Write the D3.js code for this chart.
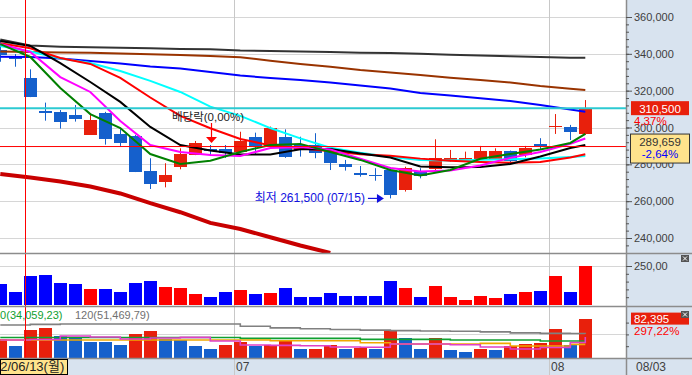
<!DOCTYPE html>
<html>
<head>
<meta charset="utf-8">
<script src="https://cdnjs.cloudflare.com/ajax/libs/d3/7.8.5/d3.min.js"></script>
<style>
  body { margin: 0; background: #fff; }
  svg { display: block; }
  text { font-family: "Liberation Sans", "Noto Sans CJK KR", sans-serif; }
</style>
</head>
<body>
<script>

/* DATA */
var dates = ["06/09","06/10","06/13","06/14","06/15","06/16","06/17","06/20","06/21","06/22",
             "06/23","06/24","06/27","06/28","06/29","06/30","07/01","07/04","07/05","07/06",
             "07/07","07/08","07/11","07/12","07/13","07/14","07/15","07/18","07/19","07/20",
             "07/21","07/22","07/25","07/26","07/27","07/28","07/29","08/01","08/02","08/03"];

var open  = [342000,338500,326700,308800,308400,306800,296100,308000,296500,295400,
             276400,270600,278700,285300,288300,288200,286900,295000,289600,295000,
             290500,290500,288200,280200,275100,274400,276900,266100,276600,277300,
             282000,282000,282900,282900,287300,285100,291000,300800,300300,296500];
var high  = [347500,339900,331600,313500,309500,312200,307700,308500,299600,296000,
             283300,280600,288700,292700,290500,290500,297700,297200,300500,299000,
             295000,296900,288500,282400,279100,277900,278400,278700,277900,293600,
             287800,286900,290000,288700,287500,290000,294200,307300,301400,314900];
var low   = [335700,333000,316500,303700,299400,303200,296000,290700,290000,275800,
             266600,267500,277300,285000,284500,283500,286500,285100,289000,283500,
             284200,283300,276900,276600,273300,271100,261500,265200,272400,276000,
             281400,281400,282400,282500,280600,283800,287800,296500,293200,296000];
var close = [339500,337000,316700,308400,303200,304500,304100,294000,291800,276000,
             269200,274200,285600,291400,287300,286300,292800,289600,299900,284200,
             287800,286000,280600,278700,274800,274000,263400,277900,273800,283300,
             283300,283300,287300,287300,282000,288700,290700,301000,297500,310500];

// trading value (억원) and volume (shares)
var tradeValue = [135,83,183,190,140,133,100,100,83,140,152,115,108,71,52,83,96,71,77,108,
                  52,52,77,58,58,58,152,108,52,121,52,31,58,46,71,83,90,183,83,252];
var volume = [39500,25400,59200,63400,46500,43800,33800,33700,27500,50700,
              57100,40800,38100,25400,19000,27500,34500,25400,27500,36600,
              19000,19200,27500,19000,20500,20000,57700,41600,19000,41600,
              16900,12700,19000,16900,26000,29600,31100,61300,28000,82395];

// moving averages, read at these candle indexes
var maIndex = [0,2,4,6,8,10,12,14,16,18,20,22,24,26,28,30,32,34,36,38,39];
var maGreen   = [345300,338300,321500,307300,299700,285600,280200,281900,286700,290500,291100,
                 286700,282400,276900,273900,276900,283000,285600,288100,291600,296500];
var maMagenta = [345300,341000,327400,319300,303500,290500,286700,285100,284500,288900,289400,
                 288100,283000,278000,276100,276600,279400,283500,286700,291100,294000];
var maBlack   = [347000,344300,335000,324700,313900,300300,290500,287500,285400,285400,288200,
                 288300,285900,283700,278800,278400,278600,280200,284300,288900,290500];
var maRed     = [345700,343000,337700,334500,326900,316300,306300,299600,293800,290300,288700,
                 287100,285500,284600,283100,282000,281300,280900,281300,283700,285500];
var maCyan    = [344300,341300,337500,335000,330700,325300,319300,311300,306300,299700,294100,
                 289000,286300,284000,282400,282100,282500,282800,283200,284000,284500];
var maBlue    = [338400,338300,337500,336100,334800,333100,332000,330100,328200,326900,325800,
                 324400,322800,321200,318700,317400,315900,314400,312200,309800,308600];
var maBrown   = [341200,341000,340700,340600,340200,339800,339400,338800,338100,336300,334500,
                 333000,331200,329800,328500,327000,325800,324400,322500,321000,320400];
var maGray    = [347800,344500,343900,343600,343300,343000,342600,342500,341800,341500,341300,
                 341000,340600,340500,340100,339500,339100,338700,338300,337900,337900];
var maDarkRed = [274800,272900,270700,268000,264200,258900,254000,248200,244900,240400,235900,
                 231900,null,null,null,null,null,null,null,null,null];

// volume moving averages, same indexes
var volMa5   = [38060,39110,46510,44400,40170,42290,43770,35940,27480,26850,26010,
                23260,22620,29600,29600,28120,23260,19030,22200,32770,44400];
var volMa20  = [38060,38060,38060,38060,38060,38060,38060,38060,38060,36580,36580,
                36580,32350,29600,29600,29600,31080,25370,25370,28970,28970];
var volMa60  = [43340,43340,43340,43340,43340,43340,43340,43340,41650,41650,41650,
                41650,39530,39530,39530,38050,38050,38050,35940,35940,34059];
var volMa120 = [69760,71240,71880,71880,71880,71880,71880,71880,67230,63840,61940,
                60460,58980,57920,57080,56660,55390,53270,52220,51800,51469];

var priceTicks = [240000,260000,280000,300000,320000,340000,360000];
var currentPrice = 310500;
var refPrice = 289659;
var exDivIndex = 14;
var lowIndex = 26;
var cursorIndex = 2;

/* DIMENSIONS */
var width = 692, height = 375;
var plotRight = 626;
var priceBottom = 253, volBottom = 306, vol2Bottom = 358;
var upColor = "#e8200c", downColor = "#1560cc";
var panelColor = "#d8e3ef", textColor = "#404040";

var svg = d3.select("body").append("svg")
    .attr("width", width)
    .attr("height", height);

var x = d3.scaleBand()
    .domain(d3.range(dates.length))
    .range([-7.2, 592.8])
    .paddingInner(0.15)
    .paddingOuter(0.075);
var xc = function(i) { return x(i) + x.bandwidth() / 2; };

var yPrice = d3.scaleLinear().domain([240000, 360000]).range([238, 17]);
var yTv = d3.scaleLinear().domain([0, 250]).range([305, 266]);
var yVol = d3.scaleLinear().domain([0, 50000]).range([358, 334.4]);

/* BACKGROUNDS */
svg.append("rect").attr("x", 0).attr("y", 0).attr("width", width).attr("height", height).attr("fill", "#fff");
svg.append("rect").attr("x", plotRight).attr("y", 0).attr("width", width - plotRight).attr("height", vol2Bottom).attr("fill", panelColor);
svg.append("rect").attr("x", 0).attr("y", vol2Bottom).attr("width", width).attr("height", height - vol2Bottom).attr("fill", panelColor);

var defs = svg.append("defs");
defs.append("clipPath").attr("id", "clipPrice").append("rect")
    .attr("x", 0).attr("y", 0).attr("width", plotRight).attr("height", priceBottom);
defs.append("clipPath").attr("id", "clipVol2").append("rect")
    .attr("x", 0).attr("y", volBottom + 1).attr("width", plotRight).attr("height", vol2Bottom - volBottom - 1);

/* GRID */
var grid = svg.append("g").attr("stroke", "#d6d6d6").attr("stroke-width", 1);
grid.selectAll("line.h").data(priceTicks).enter().append("line")
    .attr("x1", 0).attr("x2", plotRight)
    .attr("y1", function(d) { return Math.round(yPrice(d)) + 0.5; })
    .attr("y2", function(d) { return Math.round(yPrice(d)) + 0.5; });
grid.append("line").attr("x1", 0).attr("x2", plotRight)
    .attr("y1", Math.round(yTv(250)) + 0.5).attr("y2", Math.round(yTv(250)) + 0.5);
grid.append("line").attr("x1", 0).attr("x2", plotRight)
    .attr("y1", Math.round(yVol(50000)) + 0.5).attr("y2", Math.round(yVol(50000)) + 0.5);

var monthStarts = d3.range(1, dates.length).filter(function(i) {
  return dates[i].slice(0, 2) !== dates[i - 1].slice(0, 2);
});
svg.selectAll("line.month").data(monthStarts).enter().append("line")
    .attr("x1", function(i) { return Math.round(x(i)) + 0.5; })
    .attr("x2", function(i) { return Math.round(x(i)) + 0.5; })
    .attr("y1", 0).attr("y2", height)
    .attr("stroke", "#c8c8c8");

/* CANDLES */
var candles = svg.append("g").attr("clip-path", "url(#clipPrice)");
var idx = d3.range(dates.length);
candles.selectAll("line.wick").data(idx).enter().append("line")
    .attr("x1", function(i) { return Math.round(xc(i)) + 0.5; })
    .attr("x2", function(i) { return Math.round(xc(i)) + 0.5; })
    .attr("y1", function(i) { return yPrice(high[i]); })
    .attr("y2", function(i) { return yPrice(low[i]); })
    .attr("stroke", function(i) { return close[i] >= open[i] ? upColor : downColor; })
    .attr("stroke-width", 1);
candles.selectAll("rect.body").data(idx).enter().append("rect")
    .attr("x", function(i) { return x(i); })
    .attr("width", x.bandwidth())
    .attr("y", function(i) { return yPrice(Math.max(open[i], close[i])); })
    .attr("height", function(i) { return Math.max(1.5, Math.abs(yPrice(open[i]) - yPrice(close[i]))); })
    .attr("fill", function(i) { return close[i] >= open[i] ? upColor : downColor; })
    .attr("shape-rendering", "crispEdges");

/* MOVING AVERAGES */
var maLines = [
  {values: maDarkRed, color: "#c80000", w: 4},
  {values: maGray,    color: "#333333", w: 2},
  {values: maBrown,   color: "#993300", w: 2},
  {values: maBlue,    color: "#0000ff", w: 2},
  {values: maCyan,    color: "#00ffff", w: 2},
  {values: maRed,     color: "#ff0000", w: 2},
  {values: maBlack,   color: "#000000", w: 2},
  {values: maMagenta, color: "#ff00ff", w: 2},
  {values: maGreen,   color: "#008000", w: 2}
];
var maLine = d3.line()
    .defined(function(d) { return d[1] !== null; })
    .x(function(d) { return xc(d[0]); })
    .y(function(d) { return yPrice(d[1]); });
var maG = svg.append("g").attr("clip-path", "url(#clipPrice)");
maLines.forEach(function(m) {
  maG.append("path")
      .attr("d", maLine(maIndex.map(function(k, j) { return [k, m.values[j]]; })))
      .attr("fill", "none")
      .attr("stroke", m.color)
      .attr("stroke-width", m.w);
});

/* REFERENCE LINES */
svg.append("line")
    .attr("x1", 0).attr("x2", plotRight)
    .attr("y1", yPrice(refPrice)).attr("y2", yPrice(refPrice))
    .attr("stroke", "#ff0000").attr("stroke-width", 1);
svg.append("line")
    .attr("x1", 0).attr("x2", plotRight)
    .attr("y1", yPrice(currentPrice)).attr("y2", yPrice(currentPrice))
    .attr("stroke", "#2ccad2").attr("stroke-width", 2);

/* ANNOTATIONS */
var ax = Math.round(xc(exDivIndex)) + 1.5;
var aTip = yPrice(high[exDivIndex]) - 2;
svg.append("line").attr("x1", ax).attr("x2", ax).attr("y1", aTip - 20).attr("y2", aTip - 5)
    .attr("stroke", "#ff0000").attr("stroke-width", 1.2);
svg.append("path")
    .attr("d", "M" + (ax - 5.5) + "," + (aTip - 6) + "L" + (ax + 5.5) + "," + (aTip - 6) + "L" + ax + "," + aTip + "Z")
    .attr("fill", "#ff0000");
svg.append("text")
    .attr("x", 172).attr("y", 121)
    .attr("font-size", "11.5px").attr("fill", "#222")
    .text("배당락(0,00%)");

var lowY = yPrice(low[lowIndex]);
var lowX = x(lowIndex);
svg.append("text")
    .attr("x", lowX - 19).attr("y", lowY + 4)
    .attr("text-anchor", "end")
    .attr("font-size", "12px").attr("fill", "#1010e0")
    .text("최저 " + d3.format(",")(low[lowIndex]) + " (" + dates[lowIndex] + ")");
svg.append("line").attr("x1", lowX - 16).attr("x2", lowX - 6).attr("y1", lowY).attr("y2", lowY)
    .attr("stroke", "#1010e0").attr("stroke-width", 1.2);
svg.append("path")
    .attr("d", "M" + (lowX - 7) + "," + (lowY - 4.5) + "L" + lowX + "," + lowY + "L" + (lowX - 7) + "," + (lowY + 4.5) + "Z")
    .attr("fill", "#1010e0");

/* TRADING VALUE PANEL */
svg.selectAll("rect.tv").data(idx).enter().append("rect")
    .attr("x", function(i) { return x(i); })
    .attr("width", x.bandwidth())
    .attr("y", function(i) { return yTv(tradeValue[i]); })
    .attr("height", function(i) { return yTv(0) - yTv(tradeValue[i]); })
    .attr("fill", function(i) { return close[i] >= open[i] ? "#ff0000" : "#0000ff"; })
    .attr("shape-rendering", "crispEdges");

/* VOLUME PANEL */
var v2 = svg.append("g").attr("clip-path", "url(#clipVol2)");
v2.selectAll("rect.vol").data(idx).enter().append("rect")
    .attr("x", function(i) { return x(i); })
    .attr("width", x.bandwidth())
    .attr("y", function(i) { return yVol(volume[i]); })
    .attr("height", function(i) { return yVol(0) - yVol(volume[i]); })
    .attr("fill", function(i) { return (i === 0 || volume[i] >= volume[i - 1]) ? upColor : downColor; })
    .attr("shape-rendering", "crispEdges");

var volLine = d3.line()
    .x(function(d) { return xc(d[0]); })
    .y(function(d) { return yVol(d[1]); })
    .curve(d3.curveStepAfter);
[{v: volMa120, c: "#808080"}, {v: volMa60, c: "#10a030"}, {v: volMa20, c: "#f0a800"}, {v: volMa5, c: "#e040c8"}]
  .forEach(function(m) {
    v2.append("path")
        .attr("d", volLine(maIndex.map(function(k, j) { return [k, m.v[j]]; })))
        .attr("fill", "none").attr("stroke", m.c).attr("stroke-width", 1.6);
  });

svg.append("text").attr("x", -6).attr("y", 319).attr("font-size", "11px").attr("fill", "#10a030")
    .text("60(34,059,23)");
svg.append("text").attr("x", 75).attr("y", 319).attr("font-size", "11px").attr("fill", "#707070")
    .text("120(51,469,79)");

/* CURSOR LINE */
svg.append("line")
    .attr("x1", Math.round(x(cursorIndex)) + 1.5).attr("x2", Math.round(x(cursorIndex)) + 1.5)
    .attr("y1", 0).attr("y2", vol2Bottom)
    .attr("stroke", "#ff0000").attr("stroke-width", 1);

/* PANEL BORDERS */
[priceBottom, volBottom, vol2Bottom].forEach(function(yy) {
  svg.append("line").attr("x1", 0).attr("x2", width).attr("y1", yy + 0.5).attr("y2", yy + 0.5)
      .attr("stroke", "#8c8c8c").attr("stroke-width", 1.5);
});
svg.append("line").attr("x1", plotRight + 0.5).attr("x2", plotRight + 0.5).attr("y1", 0).attr("y2", height)
    .attr("stroke", "#8c8c8c").attr("stroke-width", 1.5);

/* RIGHT AXES */
var minorTicks = d3.range(236000, 362000, 4000);
svg.append("g").attr("transform", "translate(" + plotRight + ",0)")
    .call(d3.axisRight(yPrice).tickValues(minorTicks.filter(function(d) { return yPrice(d) > 2 && yPrice(d) < priceBottom - 1; }))
      .tickSize(3).tickFormat(""))
    .call(function(g) { g.select(".domain").remove(); g.selectAll("line").attr("stroke", "#555"); });
svg.append("g").attr("transform", "translate(" + plotRight + ",0)")
    .call(d3.axisRight(yPrice).tickValues(priceTicks).tickSize(6).tickPadding(2).tickFormat(d3.format(",")))
    .call(function(g) {
      g.select(".domain").remove();
      g.selectAll("line").attr("stroke", "#555");
      g.selectAll("text").attr("font-size", "11px").attr("fill", textColor)
          .attr("font-family", "Liberation Sans, sans-serif");
    });

svg.append("g").attr("transform", "translate(" + plotRight + ",0)")
    .call(d3.axisRight(yTv).tickValues([50, 100, 150, 200]).tickSize(3).tickFormat(""))
    .call(function(g) { g.select(".domain").remove(); g.selectAll("line").attr("stroke", "#555"); });
svg.append("g").attr("transform", "translate(" + plotRight + ",0)")
    .call(d3.axisRight(yTv).tickValues([250]).tickSize(6).tickPadding(2)
      .tickFormat(function(d) { return d3.format(".2f")(d).replace(".", ","); }))
    .call(function(g) {
      g.select(".domain").remove();
      g.selectAll("line").attr("stroke", "#555");
      g.selectAll("text").attr("font-size", "11px").attr("fill", textColor)
          .attr("font-family", "Liberation Sans, sans-serif");
    });
svg.append("g").attr("transform", "translate(" + plotRight + ",0)")
    .call(d3.axisRight(yVol).tickValues([25000, 50000, 75000]).tickSize(3).tickFormat(""))
    .call(function(g) { g.select(".domain").remove(); g.selectAll("line").attr("stroke", "#555"); });

/* PRICE TAGS */
var py = yPrice(currentPrice);
svg.append("rect").attr("x", 631).attr("y", py - 7).attr("width", 58).attr("height", 14).attr("fill", upColor);
svg.append("text").attr("x", 660).attr("y", py + 4.5).attr("text-anchor", "middle")
    .attr("font-size", "11.5px").attr("fill", "#fff").text(d3.format(",")(currentPrice));
var chg = (currentPrice / close[38] - 1) * 100;
svg.append("text").attr("x", 634).attr("y", py + 16.5)
    .attr("font-size", "11.5px").attr("fill", "#ff0000")
    .text(d3.format(".2f")(chg).replace(".", ",") + "%");

var ry = yPrice(refPrice);
svg.append("rect").attr("x", 630.5).attr("y", ry - 12.5).attr("width", 59).attr("height", 29)
    .attr("fill", "#ffe38c").attr("stroke", "#333").attr("stroke-width", 1);
svg.append("text").attr("x", 660).attr("y", ry - 0.5).attr("text-anchor", "middle")
    .attr("font-size", "11.5px").attr("fill", "#333").text(d3.format(",")(refPrice));
var rchg = (refPrice / close[38] - 1) * 100;
svg.append("text").attr("x", 660).attr("y", ry + 11.5).attr("text-anchor", "middle")
    .attr("font-size", "11.5px").attr("fill", "#0000ff")
    .text(d3.format(".2f")(rchg).replace(".", ",").replace("\u2212", "-") + "%");

var vy = yVol(volume[39]);
svg.append("rect").attr("x", 631).attr("y", vy - 6.5).attr("width", 58).attr("height", 12).attr("fill", upColor);
svg.append("text").attr("x", 634).attr("y", vy + 3.5)
    .attr("font-size", "11.5px").attr("fill", "#fff").text(d3.format(",")(volume[39]));
svg.append("text").attr("x", 634).attr("y", vy + 16)
    .attr("font-size", "11.5px").attr("fill", "#ff0000").text("297,22%");

/* CLOSE ICONS */
[255, 311].forEach(function(iy) {
  svg.append("rect").attr("x", 681).attr("y", iy).attr("width", 8).attr("height", 7).attr("fill", "#555");
  svg.append("path").attr("d", "M683," + (iy + 1.5) + "L687," + (iy + 5.5) + "M687," + (iy + 1.5) + "L683," + (iy + 5.5))
      .attr("stroke", "#fff").attr("stroke-width", 1);
});

/* DATE AXIS */
svg.append("rect").attr("x", 0.5).attr("y", vol2Bottom + 1.5).attr("width", 67).attr("height", height - vol2Bottom - 2)
    .attr("fill", "#ffe38c").attr("stroke", "#000").attr("stroke-width", 1);
svg.append("text")
    .attr("x", -7).attr("y", 371)
    .attr("font-size", "13px").attr("fill", "#222")
    .text("22/" + dates[cursorIndex] + "(월)");
svg.selectAll("text.month").data(monthStarts).enter().append("text")
    .attr("x", function(i) { return Math.round(x(i)) + 2; })
    .attr("y", 371)
    .attr("font-size", "12px").attr("fill", textColor)
    .text(function(i) { return dates[i].slice(0, 2); });
svg.append("text").attr("x", 636).attr("y", 371)
    .attr("font-size", "12px").attr("fill", textColor)
    .text(dates[dates.length - 1]);

</script>
</body>
</html>
